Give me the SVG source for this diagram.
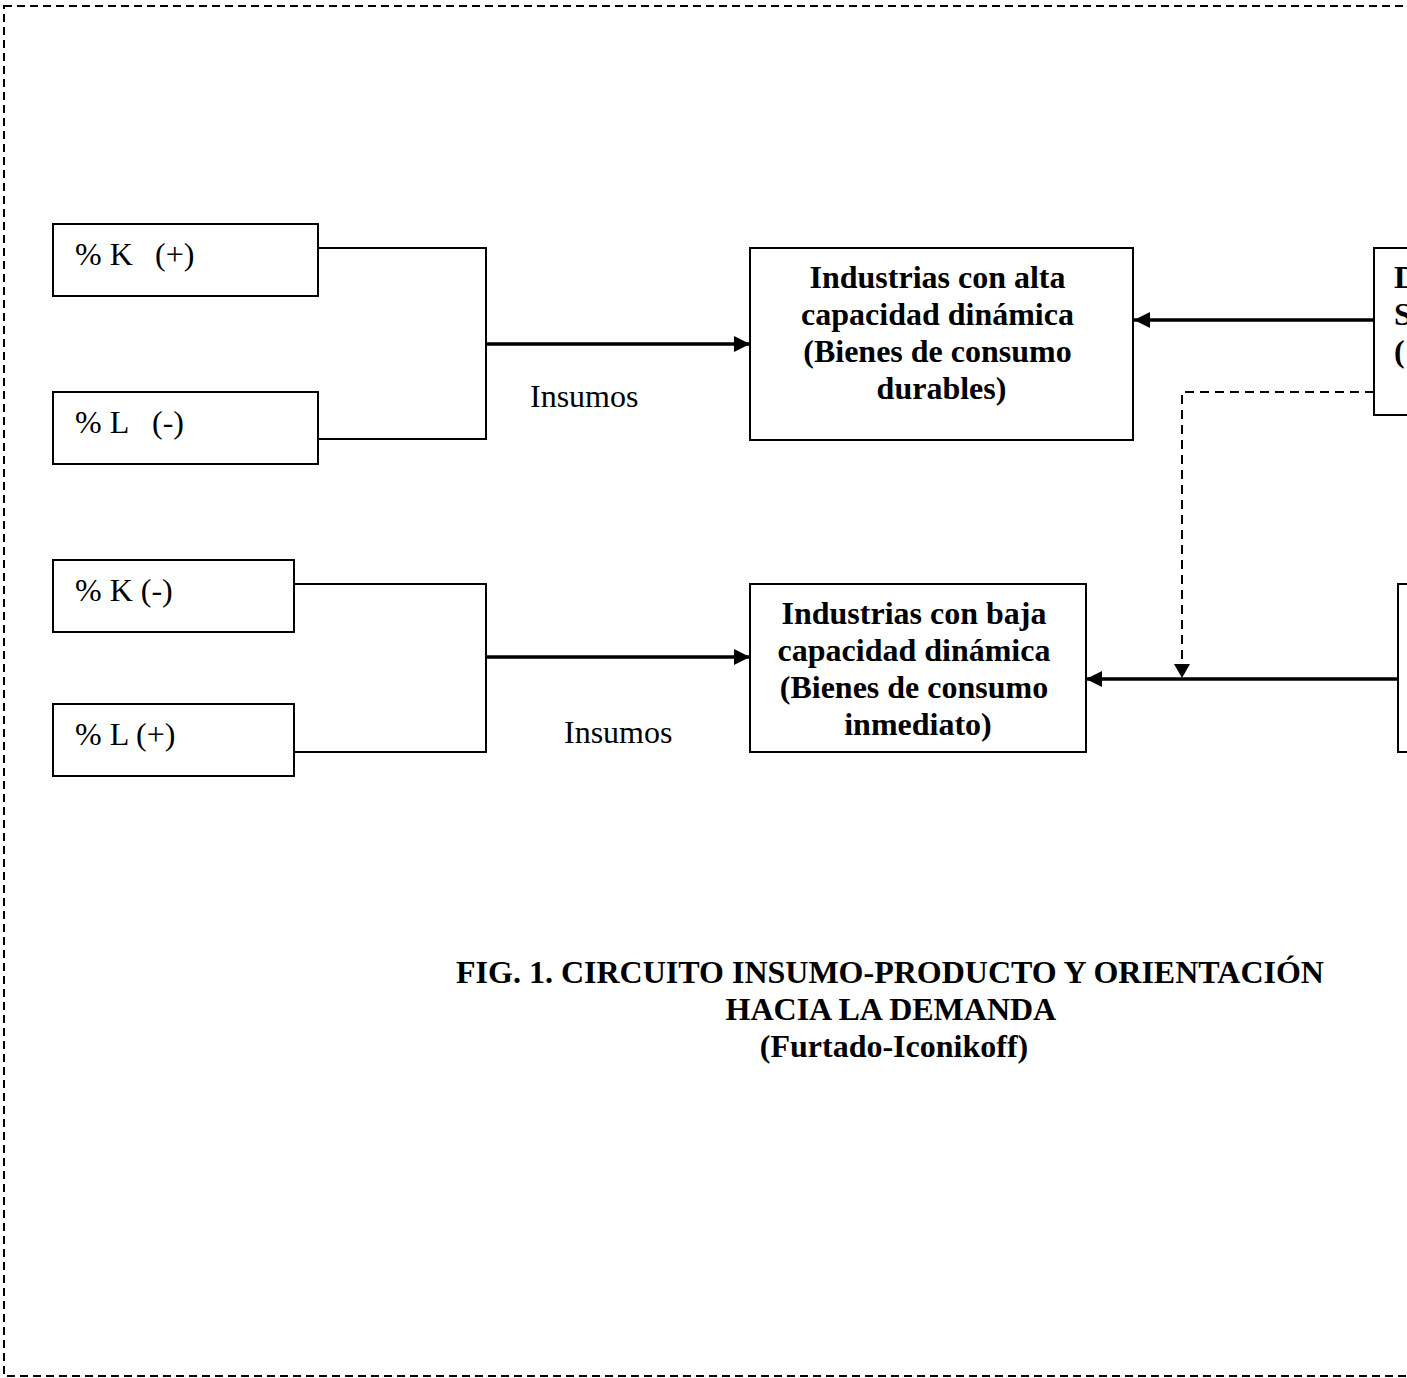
<svg xmlns="http://www.w3.org/2000/svg" width="1407" height="1378" viewBox="0 0 1407 1378">
<style>
.box{fill:#fff;stroke:#000;stroke-width:2}
.reg{font-family:"Liberation Serif","Times New Roman",serif;font-size:32px;fill:#000}
.bold{font-family:"Liberation Serif","Times New Roman",serif;font-size:32px;font-weight:bold;fill:#000}
.thin{fill:none;stroke:#000;stroke-width:2}
.thick{fill:none;stroke:#000;stroke-width:3.5}
.dash{fill:none;stroke:#000;stroke-width:2;stroke-dasharray:9,6}
</style>
<defs>
<marker id="ah" markerUnits="userSpaceOnUse" markerWidth="16" markerHeight="16" viewBox="0 0 16 16" refX="16" refY="8" orient="auto">
<path d="M0,0 L16,8 L0,16 Z" fill="#000"/>
</marker>
<marker id="ahs" markerUnits="userSpaceOnUse" markerWidth="14" markerHeight="16" viewBox="0 0 14 16" refX="14" refY="8" orient="auto">
<path d="M0,0 L14,8 L0,16 Z" fill="#000"/>
</marker>
</defs>
<rect x="4" y="6" width="1420" height="1370" fill="none" stroke="#000" stroke-width="2" stroke-dasharray="8,5"/>

<g id="connectors">
<path class="thin" d="M318,248 H486 V439 H318"/>
<path class="thick" d="M486,344 H750" marker-end="url(#ah)"/>
<path class="thin" d="M294,584 H486 V752 H294"/>
<path class="thick" d="M486,657 H750" marker-end="url(#ah)"/>
<path class="thick" d="M1374,320 H1134" marker-end="url(#ah)"/>
<path class="thick" d="M1398,679 H1086" marker-end="url(#ah)"/>
<path class="dash" d="M1374,392 H1182 V678" marker-end="url(#ahs)"/>
</g>

<g id="k-plus">
<rect class="box" x="53" y="224" width="265" height="72"/>
<text class="reg" y="265"><tspan x="75">% K</tspan><tspan x="155">(+)</tspan></text>
</g>
<g id="l-minus">
<rect class="box" x="53" y="392" width="265" height="72"/>
<text class="reg" y="433"><tspan x="75">% L</tspan><tspan x="152">(-)</tspan></text>
</g>
<g id="k-minus">
<rect class="box" x="53" y="560" width="241" height="72"/>
<text class="reg" x="75" y="601">% K (-)</text>
</g>
<g id="l-plus">
<rect class="box" x="53" y="704" width="241" height="72"/>
<text class="reg" x="75" y="745">% L (+)</text>
</g>

<g id="insumos-1"><text class="reg" x="530" y="407">Insumos</text></g>
<g id="insumos-2"><text class="reg" x="564" y="743">Insumos</text></g>

<g id="alta">
<rect class="box" x="750" y="248" width="383" height="192"/>
<text class="bold" text-anchor="middle">
<tspan x="941.5" y="288">Industrias con alta</tspan>
<tspan x="941.5" y="325">capacidad dinámica</tspan>
<tspan x="941.5" y="362">(Bienes de consumo</tspan>
<tspan x="941.5" y="399">durables)</tspan>
</text>
</g>

<g id="baja">
<rect class="box" x="750" y="584" width="336" height="168"/>
<text class="bold" text-anchor="middle">
<tspan x="918" y="624">Industrias con baja</tspan>
<tspan x="918" y="661">capacidad dinámica</tspan>
<tspan x="918" y="698">(Bienes de consumo</tspan>
<tspan x="918" y="735">inmediato)</tspan>
</text>
</g>

<g id="right-upper">
<rect class="box" x="1374" y="248" width="60" height="167"/>
<text class="bold">
<tspan x="1394" y="288">D</tspan>
<tspan x="1394" y="325">S</tspan>
<tspan x="1394" y="362">(</tspan>
</text>
</g>

<g id="right-lower">
<rect class="box" x="1398" y="584" width="40" height="168"/>
</g>

<g id="title">
<text class="bold" text-anchor="middle">
<tspan x="894" y="983">FIG. 1. CIRCUITO INSUMO-PRODUCTO Y ORIENTACIÓN</tspan>
<tspan x="894" y="1020">HACIA LA DEMANDA</tspan>
<tspan x="894" y="1057">(Furtado-Iconikoff)</tspan>
</text>
</g>
</svg>
